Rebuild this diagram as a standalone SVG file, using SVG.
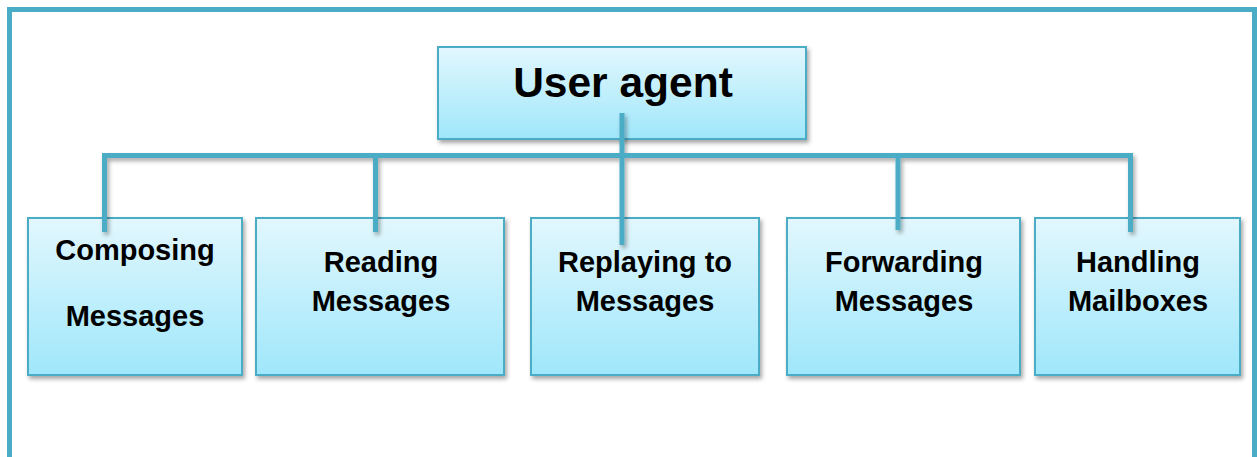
<svg xmlns="http://www.w3.org/2000/svg" width="1257" height="457" viewBox="0 0 1257 457">
<defs>
<linearGradient id="g" x1="0" y1="0" x2="0" y2="1">
<stop offset="0" stop-color="#e2f7fd"/>
<stop offset="1" stop-color="#9fe7fb"/>
</linearGradient>
<filter id="sh" x="-10%" y="-10%" width="120%" height="130%">
<feDropShadow dx="2" dy="3" stdDeviation="2" flood-color="#000" flood-opacity="0.35"/>
</filter>
<style>
.box{fill:url(#g);stroke:#4bacc6;stroke-width:2;filter:url(#sh)}
.t{font-family:"Liberation Sans",Arial,sans-serif;font-weight:bold;fill:#000;text-anchor:middle}
.s{font-size:29px}
.c{fill:none;stroke:#4bacc6;stroke-width:5}
</style>
</defs>
<rect width="1257" height="457" fill="#fff"/>
<path d="M9.5 470 V9.5 H1254.5 V470" fill="none" stroke="#4bacc6" stroke-width="5"/>
<g id="n0">
<rect class="box" x="438" y="47" width="368" height="92"/>
<text class="t" x="623" y="97" font-size="42.5">User agent</text>
</g>
<g id="n1">
<rect class="box" x="28" y="218" width="214" height="157"/>
<text class="t s" x="135" y="260">Composing</text>
<text class="t s" x="135" y="326">Messages</text>
</g>
<g id="n2">
<rect class="box" x="256" y="218" width="248" height="157"/>
<text class="t s" x="381" y="272">Reading</text>
<text class="t s" x="381" y="311">Messages</text>
</g>
<g id="n3">
<rect class="box" x="531" y="218" width="228" height="157"/>
<text class="t s" x="645" y="272">Replaying to</text>
<text class="t s" x="645" y="311">Messages</text>
</g>
<g id="n4">
<rect class="box" x="787" y="218" width="233" height="157"/>
<text class="t s" x="904" y="272">Forwarding</text>
<text class="t s" x="904" y="311">Messages</text>
</g>
<g id="n5">
<rect class="box" x="1035" y="218" width="205" height="157"/>
<text class="t s" x="1138" y="272">Handling</text>
<text class="t s" x="1138" y="311">Mailboxes</text>
</g>
<g id="connectors" filter="url(#sh)">
<path class="c" d="M104.5 232 V155.5 H1130.5 V232"/>
<path class="c" d="M375.5 155.5 V232"/>
<path class="c" d="M898 155.5 V230"/>
<path class="c" d="M622 113 V245"/>
</g>
</svg>
